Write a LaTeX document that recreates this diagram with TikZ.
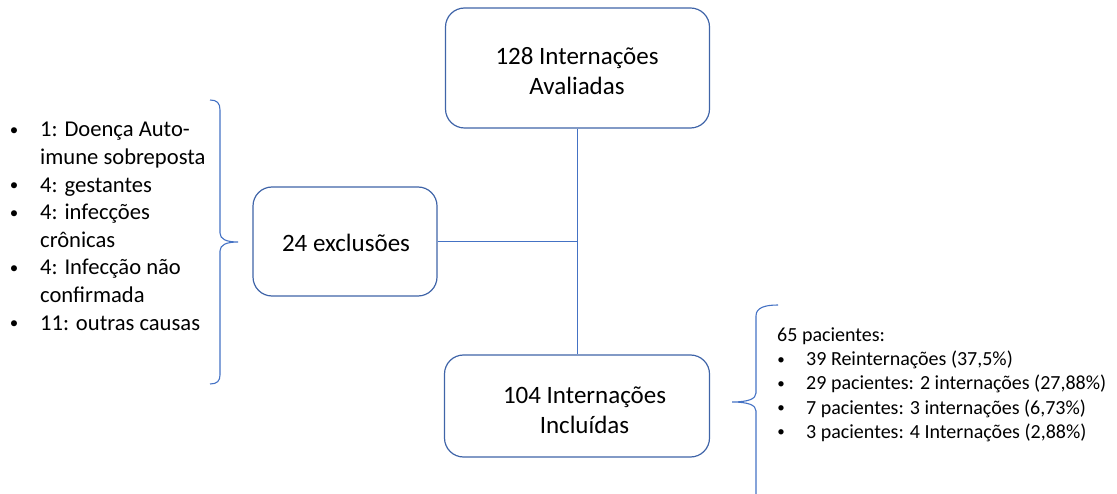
\documentclass[tikz,border=0pt]{standalone}
\usepackage{fontspec}
\setmainfont{Carlito}
\definecolor{boxline}{HTML}{3F64A8}
\definecolor{linkline}{HTML}{4472C4}
\begin{document}
\begin{tikzpicture}[x=1pt,y=-1pt,
  box/.style={draw=boxline, line width=1.2pt, rounded corners=19pt, inner sep=0pt},
  boxtxt/.style={anchor=base, inner sep=0pt, font=\fontsize{25}{30}\selectfont},
  ltxt/.style={anchor=base west, inner sep=0pt, font=\fontsize{22.6}{27.6}\selectfont},
  lbul/.style={anchor=base, inner sep=0pt, font=\fontsize{17}{20}\selectfont},
  rtxt/.style={anchor=base west, inner sep=0pt, font=\fontsize{20}{24}\selectfont},
  rbul/.style={anchor=base, inner sep=0pt, font=\fontsize{15}{18}\selectfont},
  conn/.style={draw=linkline, line width=1pt},
  brace/.style={draw=linkline, line width=1.1pt}]
\useasboundingbox (0,0) rectangle (1117,494);

% boxes
\node[box, minimum width=264pt, minimum height=120pt] (b1) at (577.5,68) {};
\node[box, minimum width=184pt, minimum height=109pt] (b2) at (345,241.5) {};
\node[box, minimum width=265pt, minimum height=102pt] (b3) at (577,406) {};

% box texts
\node[boxtxt] (t1a) at (577,65) {128 Internações};
\node[boxtxt] (t1b) at (577,95) {Avaliadas};
\node[boxtxt] (t2) at (346,252) {24 exclusões};
\node[boxtxt] (t3a) at (584.5,403) {104 Internações};
\node[boxtxt] (t3b) at (584.5,433) {Incluídas};

% connectors
\draw[conn] (b1.south) -- (b1.south |- b3.north);
\coordinate (jn) at (b1.south |- b2.east);
\draw[conn] (b2.east) -- (jn);

% exclusion reasons
\foreach \y/\t [count=\i] in {137/{1: Doença Auto-},164.6/{imune sobreposta},192.2/{4: gestantes},
  219.8/{4: infecções},247.4/{crônicas},275/{4: Infecção não},302.6/{confirmada},330.2/{11: outras causas}}
  \node[ltxt] (l\i) at (40,\y) {\t};
\foreach \y [count=\i] in {137,192.2,219.8,275,330.2}
  \node[lbul] (lb\i) at (14,\y-1.5) {•};

% left brace
\draw[brace] (210,100) .. controls (217,100) and (220,103) .. (220,110)
  -- (220,233) .. controls (220,239) and (226,242) .. (238,242)
  .. controls (226,242) and (220,245) .. (220,251)
  -- (220,375) .. controls (220,381) and (217,384) .. (210,384);

% readmission details
\node[rtxt] (r1) at (777,342) {65 pacientes:};
\foreach \y/\t [count=\i] in {366/{39 Reinternações (37,5\%)},390/{29 pacientes: 2 internações (27,88\%)},
  414/{7 pacientes: 3 internações (6,73\%)},438/{3 pacientes: 4 Internações (2,88\%)}}
{
  \node[rtxt] (r\i x) at (806,\y) {\t};
  \node[rbul] (rb\i) at (781,\y-1.5) {•};
}

% right brace
\draw[brace] (778,305) .. controls (764,305) and (756,308) .. (756,316)
  -- (756,393) .. controls (756,399) and (748,402) .. (732,402)
  .. controls (748,402) and (756,405) .. (756,411)
  -- (756,494);
\end{tikzpicture}
\end{document}
